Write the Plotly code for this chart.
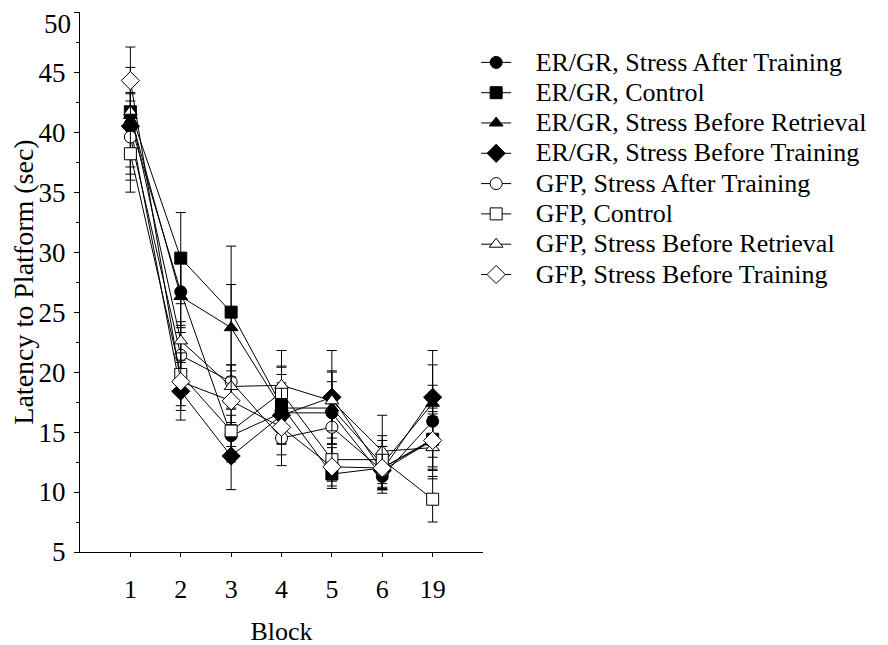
import plotly.graph_objects as go

blocks = ['1', '2', '3', '4', '5', '6', '19']

series_names = [
    'ER/GR, Stress After Training',
    'ER/GR, Control',
    'ER/GR, Stress Before Retrieval',
    'ER/GR, Stress Before Training',
    'GFP, Stress After Training',
    'GFP, Control',
    'GFP, Stress Before Retrieval',
    'GFP, Stress Before Training',
]

ergr_sat = [40.7, 26.7, 14.7, 16.6, 16.6, 11.3, 15.9]
ergr_ctrl = [41.7, 29.5, 25.0, 17.2, 11.5, 12.0, 14.4]
ergr_sbr = [41.4, 26.3, 23.7, 17.0, 17.0, 12.3, 17.4]
ergr_sbt = [40.5, 18.4, 13.0, 16.4, 17.9, 11.8, 17.9]
gfp_sat = [39.6, 21.4, 19.2, 14.5, 15.4, 11.8, 14.3]
gfp_ctrl = [38.2, 19.8, 15.1, 18.3, 12.7, 12.7, 9.4]
gfp_sbr = [41.7, 22.6, 18.8, 18.9, 17.6, 13.4, 13.7]
gfp_sbt = [44.3, 19.2, 17.6, 15.4, 12.1, 12.0, 14.3]

ergr_sat_err = [4.7, 2.8, 2.2, 2.5, 2.6, 1.4, 3.0]
ergr_ctrl_err = [1.5, 3.8, 5.5, 3.2, 1.2, 1.8, 2.6]
ergr_sbr_err = [1.2, 3.0, 3.6, 2.8, 3.0, 2.0, 3.2]
ergr_sbt_err = [4.0, 2.4, 2.8, 2.4, 3.9, 1.6, 3.9]
gfp_sat_err = [2.5, 2.3, 1.4, 2.3, 2.3, 1.6, 2.4]
gfp_ctrl_err = [3.2, 2.6, 1.3, 2.2, 1.8, 2.0, 1.9]
gfp_sbr_err = [1.6, 1.6, 1.8, 2.9, 2.5, 3.0, 2.6]
gfp_sbt_err = [2.8, 2.4, 2.0, 2.3, 1.6, 1.8, 2.2]

y_ticks = [5, 10, 15, 20, 25, 30, 35, 40, 45, 50]
y_tick_labels = ['5', '10', '15', '20', '25', '30', '35', '40', '45', '']
y_top_label = '50'

values = [ergr_sat, ergr_ctrl, ergr_sbr, ergr_sbt, gfp_sat, gfp_ctrl, gfp_sbr, gfp_sbt]
errors = [ergr_sat_err, ergr_ctrl_err, ergr_sbr_err, ergr_sbt_err,
          gfp_sat_err, gfp_ctrl_err, gfp_sbr_err, gfp_sbt_err]
symbols = ['circle', 'square', 'triangle-up', 'diamond'] * 2
fills = ['black'] * 4 + ['white'] * 4
sizes = [12, 12, 12, 14] * 2

pad = '\u00a0\u00a0\u00a0'

fig = go.Figure()
for name, v, e, sym, fc, sz in zip(series_names, values, errors, symbols, fills, sizes):
    fig.add_trace(go.Scatter(
        x=blocks, y=v, mode='lines+markers',
        name='<span style="font-size:26px">' + pad + name + '</span>',
        line=dict(color='black', width=1),
        marker=dict(symbol=sym, size=sz, color=fc, line=dict(color='black', width=1)),
        error_y=dict(type='data', array=e, visible=True, color='black', thickness=1, width=5),
    ))

font_family = 'Liberation Serif, Tinos, Times New Roman, DejaVu Serif, serif'
fig.update_layout(
    width=888, height=645,
    margin=dict(l=72, r=413, t=4, b=101, autoexpand=False),
    paper_bgcolor='white', plot_bgcolor='white',
    font=dict(family=font_family, color='black', size=25),
    showlegend=True,
    legend=dict(
        x=0.983, xanchor='left', y=0.944, yanchor='top',
        font=dict(family=font_family, size=21, color='black'),
        bgcolor='rgba(0,0,0,0)', itemwidth=30, tracegroupgap=0,
    ),
    xaxis=dict(
        type='category', range=[-1, 7], automargin=False,
        showline=True, linecolor='black', linewidth=1,
        ticks='outside', ticklen=4, tickcolor='black',
        showgrid=False, zeroline=False,
        tickfont=dict(family=font_family, size=26), ticklabelstandoff=10,
        title=dict(text='Block', font=dict(family=font_family, size=26), standoff=18),
    ),
    yaxis=dict(
        range=[5, 50.02], tickvals=y_ticks, ticktext=y_tick_labels, automargin=False,
        showline=True, linecolor='black', linewidth=1,
        ticks='outside', ticklen=5, tickcolor='black',
        minor=dict(dtick=2.5, ticks='outside', ticklen=3, tickcolor='black'),
        showgrid=False, zeroline=False,
        tickfont=dict(family=font_family, size=27), ticklabelstandoff=3,
        title=dict(text='Latency to Platform (sec)', font=dict(family=font_family, size=28), standoff=8),
    ),
    annotations=[dict(
        text=y_top_label, xref='paper', x=0, yref='y', y=y_ticks[-1],
        xanchor='right', yanchor='middle', xshift=-7, yshift=-12, showarrow=False,
        font=dict(family=font_family, size=27, color='black'),
    )],
)

fig.write_html('out.html')
